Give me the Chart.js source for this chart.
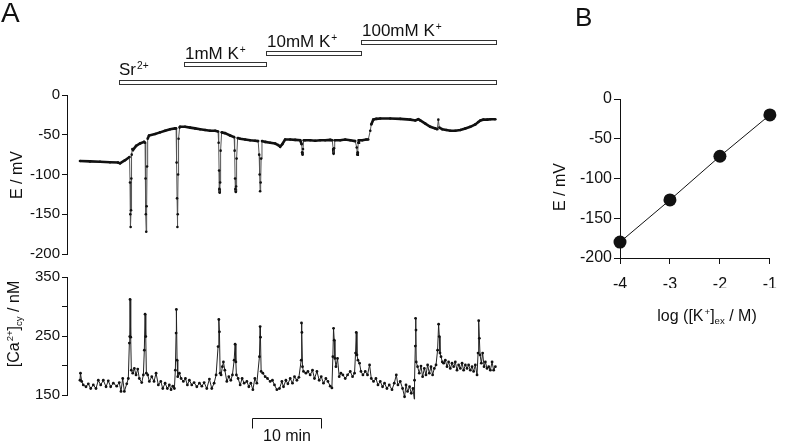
<!DOCTYPE html>
<html>
<head>
<meta charset="utf-8">
<script src="https://cdn.jsdelivr.net/npm/chart.js@4.4.1/dist/chart.umd.min.js"></script>
<style>
  body { margin: 0; background: #fff; }
  #fig { position: relative; width: 788px; height: 445px; overflow: hidden; background: #fff;
         font-family: "Liberation Sans", Arial, sans-serif; color: #111; }
  canvas { position: absolute; }
  .t { position: absolute; white-space: nowrap; line-height: 1; font-size: 17px; }
  .t sup { font-size: 0.6em; vertical-align: baseline; position: relative; top: -0.6em; margin-left: 1px; }
  .t sub { font-size: 0.6em; vertical-align: baseline; position: relative; top: 0.3em; }
  .rot { transform: translate(-50%, -50%) rotate(-90deg); }
  .mid { transform: translateX(-50%); }
</style>
</head>
<body>
<div id="fig">
  <canvas id="eChart" width="510" height="265" style="left:0;top:0"></canvas>
  <canvas id="caChart" width="510" height="183" style="left:0;top:262px"></canvas>
  <canvas id="bChart" width="248" height="330" style="left:540px;top:0"></canvas>

  <div class="t" style="left:1px;top:-1px;font-size:28px">A</div>
  <div class="t" style="left:575px;top:4px;font-size:26px">B</div>

  <div class="t" style="left:119px;top:61px">Sr<sup>2+</sup></div>
  <div class="t" style="left:185px;top:45px">1mM K<sup>+</sup></div>
  <div class="t" style="left:267px;top:33px">10mM K<sup>+</sup></div>
  <div class="t" style="left:362px;top:22px">100mM K<sup>+</sup></div>

  <div class="t rot" style="left:17px;top:175px;font-size:16px">E / mV</div>
  <div class="t rot" style="left:14px;top:324px;font-size:16px">[Ca<sup>2+</sup>]<sub>cy</sub> / nM</div>
  <div class="t mid" style="left:287px;top:428px;font-size:16px">10 min</div>

  <div class="t rot" style="left:560px;top:187px;font-size:16px">E / mV</div>
  <div class="t mid" style="left:707px;top:308px;font-size:16px">log ([K<sup>+</sup>]<sub>ex</sub> / M)</div>
</div>

<script>
// ---- panel A, membrane potential trace (time in min, E in mV)
const eTime = [
  0, 1.46, 2.93, 4.39, 5.56, 5.86, 6.59, 7.25, 7.32, 7.36,
  7.41, 7.47, 7.51, 7.57, 7.66, 7.76, 8.20, 8.78, 9.37, 9.52,
  9.59, 9.63, 9.69, 9.75, 9.81, 9.90, 10.10, 10.98, 11.71, 12.45,
  13.18, 13.91, 14.06, 14.13, 14.20, 14.25, 14.30, 14.35, 14.42, 14.57,
  14.64, 15.37, 16.11, 16.84, 17.57, 18.30, 19.03, 19.77, 20.20, 20.28,
  20.35, 20.39, 20.44, 20.50, 20.57, 20.72, 21.23, 21.96, 22.55, 22.62,
  22.69, 22.74, 22.80, 22.84, 22.91, 23.06, 23.43, 24.16, 24.89, 25.62,
  26.06, 26.21, 26.28, 26.35, 26.43, 26.50, 26.62, 27.09, 27.82, 28.55,
  28.99, 29.28, 29.58, 30.01, 30.75, 31.48, 32.21, 32.43, 32.50, 32.56,
  32.62, 32.72, 32.94, 33.67, 34.41, 35.14, 35.87, 36.60, 36.90, 37.04,
  37.10, 37.16, 37.26, 38.07, 38.80, 39.53, 40.26, 40.48, 40.56, 40.63,
  40.70, 40.80, 41.29, 41.87, 42.17, 42.46, 42.61, 42.90, 43.34, 43.92,
  45.39, 46.85, 48.32, 49.05, 49.49, 49.78, 50.51, 51.24, 51.98, 52.27,
  52.42, 52.56, 53.00, 53.59, 54.17, 54.90, 55.64, 56.37, 57.10, 57.83,
  58.27, 58.57, 59.00, 59.59, 60.03, 60.76
];
const eValue = [
  -83, -83.5, -84, -84.5, -85, -86, -82, -78, -110, -150,
  -166, -145, -105, -75, -68, -69, -64, -61, -59, -60,
  -105, -150, -172, -140, -90, -55, -51, -49, -47, -45,
  -43, -42, -42, -85, -130, -166, -150, -100, -55, -41,
  -40, -40, -41, -42, -43, -44, -45, -45, -46, -60,
  -95, -118, -123, -110, -70, -47, -48, -51, -53, -70,
  -105, -118, -122, -115, -80, -54, -55, -56, -57, -57.5,
  -58, -75, -100, -121, -110, -80, -58, -59, -60, -61,
  -63, -65, -62, -56, -56, -56.5, -57, -62, -72, -75,
  -68, -57, -57, -57, -57.5, -57, -57, -56.5, -57, -68,
  -74, -67, -57, -57, -56, -57, -58, -66, -75, -72,
  -60, -57, -57, -56, -56, -45, -37, -31, -30, -29.5,
  -29.5, -30, -31, -32, -30.5, -32, -36, -40, -42, -43,
  -31, -41, -43, -44, -45, -45, -44, -42, -40, -37,
  -34, -32, -31, -31, -30.5, -30.5
];

// ---- panel A, cytosolic Ca2+ trace (time in min, nM)
const caTime = [
  0.00, 0.07, 0.25, 0.48, 0.88, 1.22, 1.57, 1.95, 2.34, 2.68,
  3.03, 3.41, 3.81, 4.14, 4.49, 4.88, 5.37, 5.75, 6.00, 6.25,
  6.49, 6.84, 7.07, 7.22, 7.28, 7.32, 7.42, 7.51, 7.72, 7.95,
  8.20, 8.45, 8.68, 9.03, 9.27, 9.41, 9.52, 9.62, 9.71, 9.91,
  10.15, 10.50, 10.83, 11.13, 11.46, 11.82, 12.11, 12.45, 12.78, 13.07,
  13.32, 13.57, 13.81, 13.95, 14.06, 14.10, 14.20, 14.30, 14.54, 14.79,
  15.12, 15.42, 15.71, 16.00, 16.35, 16.69, 17.09, 17.47, 17.82, 18.16,
  18.55, 18.93, 19.28, 19.62, 19.91, 20.20, 20.31, 20.40, 20.50, 20.64,
  20.83, 20.98, 21.19, 21.48, 21.77, 22.06, 22.30, 22.55, 22.69, 22.80,
  22.88, 23.13, 23.43, 23.72, 24.01, 24.41, 24.70, 24.99, 25.29, 25.58,
  25.87, 26.25, 26.35, 26.40, 26.50, 26.75, 27.09, 27.42, 27.82, 28.15,
  28.45, 28.80, 29.18, 29.53, 29.77, 30.12, 30.41, 30.75, 31.08, 31.38,
  31.73, 32.02, 32.36, 32.40, 32.46, 32.55, 32.69, 33.05, 33.34, 33.67,
  34.01, 34.30, 34.66, 34.99, 35.29, 35.62, 35.97, 36.27, 36.60, 36.85,
  36.99, 37.09, 37.19, 37.29, 37.44, 37.67, 37.92, 38.17, 38.46, 38.80,
  39.14, 39.53, 39.87, 40.16, 40.31, 40.41, 40.51, 40.66, 40.89, 41.10,
  41.39, 41.73, 42.06, 42.36, 42.61, 42.94, 43.29, 43.59, 43.92, 44.26,
  44.55, 44.90, 45.24, 45.64, 45.97, 46.27, 46.51, 46.85, 47.19, 47.48,
  47.69, 47.92, 48.21, 48.46, 48.71, 48.90, 48.94, 49.05, 49.09, 49.15,
  49.19, 49.38, 49.63, 49.88, 50.12, 50.37, 50.61, 50.85, 51.10, 51.35,
  51.58, 51.83, 52.08, 52.31, 52.46, 52.56, 52.66, 52.81, 53.00, 53.19,
  53.44, 53.69, 53.92, 54.17, 54.42, 54.66, 54.90, 55.15, 55.39, 55.64,
  55.89, 56.12, 56.37, 56.62, 56.85, 57.10, 57.35, 57.58, 57.83, 58.08,
  58.23, 58.32, 58.42, 58.52, 58.71, 58.90, 59.11, 59.30, 59.55, 59.79,
  60.03, 60.28, 60.51, 60.76
];
const caValue = [
  175, 187, 173, 167, 164, 169, 161, 167, 161, 175,
  167, 175, 164, 174, 164, 170, 165, 171, 156, 178,
  156, 169, 178, 238, 249, 312, 248, 192, 187, 195,
  184, 194, 178, 171, 184, 226, 287, 249, 187, 184,
  173, 181, 173, 187, 167, 173, 161, 170, 161, 167,
  159, 165, 161, 192, 255, 295, 209, 181, 187, 178,
  173, 178, 167, 175, 167, 171, 164, 170, 165, 171,
  161, 177, 161, 170, 184, 232, 278, 257, 187, 184,
  198, 206, 192, 173, 181, 175, 184, 209, 236, 206,
  184, 178, 167, 178, 170, 173, 164, 170, 159, 178,
  170, 215, 266, 248, 190, 187, 181, 178, 173, 175,
  167, 159, 161, 173, 164, 175, 169, 178, 170, 181,
  175, 180, 209, 272, 256, 198, 190, 187, 190, 184,
  192, 178, 190, 175, 181, 170, 178, 173, 165, 162,
  215, 263, 243, 212, 198, 212, 181, 187, 184, 178,
  184, 190, 181, 187, 221, 256, 218, 209, 204, 190,
  184, 190, 184, 201, 178, 173, 178, 167, 173, 164,
  170, 161, 167, 159, 170, 184, 167, 173, 161, 147,
  167, 156, 164, 153, 161, 143, 175, 233, 280, 260,
  206, 198, 187, 199, 181, 195, 184, 201, 187, 198,
  184, 195, 201, 226, 270, 249, 221, 215, 206, 204,
  209, 198, 206, 195, 204, 198, 206, 192, 201, 195,
  204, 192, 201, 195, 201, 192, 198, 190, 201, 184,
  221, 276, 246, 218, 204, 221, 198, 206, 195, 198,
  192, 206, 192, 198
];

// solution changes (min) and the 10 min scale bar
const protocolStart = [5.75, 15.27, 27.23, 41.1];
const protocolEnd = [60.86, 27.23, 41.1, 60.86];
const scaleBarStart = 25.2;
const scaleBarMinutes = 10;

// ---- panel B
const bLogK = [-4, -3, -2, -1];
const bE = [-180, -127, -72, -20];

Chart.defaults.font.family = '"Liberation Sans", Arial, sans-serif';
Chart.defaults.font.size = 15;
Chart.defaults.color = '#111';
Chart.defaults.animation = false;
Chart.defaults.plugins.legend.display = false;
Chart.defaults.plugins.tooltip.enabled = false;

const INK = '#111';
const toXY = (xs, ys) => xs.map((x, i) => ({ x: x, y: ys[i] }));
const steep = c => Math.abs(c.p1.parsed.y - c.p0.parsed.y) > 6;

function yAxis(min, max, width, extra) {
  return Object.assign({
    min: min, max: max,
    afterFit: s => { s.width = width; },
    border: { color: INK, width: 1 },
    grid: { drawOnChartArea: false, drawTicks: true, tickLength: 5, color: INK },
    ticks: { stepSize: 50, padding: 2, color: INK }
  }, extra || {});
}

// bars above the E trace
const protocolPlugin = {
  id: 'protocol',
  afterDraw(chart) {
    const ctx = chart.ctx, x = chart.scales.x;
    const tops = [80, 62, 51, 40];
    ctx.save();
    ctx.strokeStyle = '#333';
    ctx.lineWidth = 1;
    protocolStart.forEach((s, i) => {
      const x1 = Math.round(x.getPixelForValue(s)) + 0.5;
      const x2 = Math.round(x.getPixelForValue(protocolEnd[i])) + 0.5;
      ctx.strokeRect(x1, tops[i] + 0.5, x2 - x1, 4);
    });
    ctx.restore();
  }
};

const scaleBarPlugin = {
  id: 'scaleBar',
  afterDraw(chart) {
    const ctx = chart.ctx, x = chart.scales.x;
    const x1 = Math.round(x.getPixelForValue(scaleBarStart)) + 0.5;
    const x2 = Math.round(x.getPixelForValue(scaleBarStart + scaleBarMinutes)) + 0.5;
    const y = chart.chartArea.bottom + 23.5;
    ctx.save();
    ctx.strokeStyle = INK;
    ctx.lineWidth = 1;
    ctx.beginPath();
    ctx.moveTo(x1, y + 10);
    ctx.lineTo(x1, y);
    ctx.lineTo(x2, y);
    ctx.lineTo(x2, y + 10);
    ctx.stroke();
    ctx.restore();
  }
};

new Chart(document.getElementById('eChart'), {
  type: 'scatter',
  data: {
    datasets: [{
      data: toXY(eTime, eValue),
      showLine: true,
      borderColor: INK,
      backgroundColor: INK,
      borderWidth: 2.6,
      pointRadius: 1.3,
      pointBorderWidth: 0,
      segment: {
        borderWidth: c => steep(c) ? 1 : 2.6,
        borderColor: c => steep(c) ? '#555' : INK
      }
    }]
  },
  options: {
    responsive: false,
    layout: { padding: { top: 95, bottom: 10, left: 0, right: 13 } },
    scales: {
      x: { type: 'linear', display: false, min: -1.9, max: 61 },
      y: yAxis(-200, 0, 67)
    }
  },
  plugins: [protocolPlugin]
});

new Chart(document.getElementById('caChart'), {
  type: 'scatter',
  data: {
    datasets: [{
      data: toXY(caTime, caValue),
      showLine: true,
      clip: false,
      borderColor: '#222',
      backgroundColor: INK,
      borderWidth: 1,
      pointRadius: 1.4,
      pointBorderWidth: 0
    }]
  },
  options: {
    responsive: false,
    layout: { padding: { top: 15, bottom: 50, left: 0, right: 13 } },
    scales: {
      x: { type: 'linear', display: false, min: -1.9, max: 61 },
      y: yAxis(150, 350, 67, {
        ticks: { stepSize: 50, padding: 2, color: INK, callback: v => (v % 100 === 50 ? v : '') }
      })
    }
  },
  plugins: [scaleBarPlugin]
});

new Chart(document.getElementById('bChart'), {
  type: 'scatter',
  data: {
    datasets: [{
      data: toXY(bLogK, bE),
      showLine: true,
      clip: false,
      borderColor: INK,
      backgroundColor: INK,
      borderWidth: 1,
      pointRadius: 6.5,
      pointBorderWidth: 0
    }]
  },
  options: {
    responsive: false,
    layout: { padding: { top: 99, bottom: 42, left: 0, right: 10 } },
    scales: {
      x: {
        type: 'linear', min: -4, max: -1,
        afterFit: s => { s.height = 30; },
        border: { color: INK, width: 1 },
        grid: { drawOnChartArea: false, drawTicks: true, tickLength: 6, color: INK },
        ticks: { stepSize: 1, padding: 11, color: INK, font: { size: 16 } }
      },
      y: yAxis(-200, 0, 80, {
        grid: { drawOnChartArea: false, drawTicks: true, tickLength: 6, color: INK },
        ticks: { stepSize: 50, padding: 2, color: INK, font: { size: 16 } }
      })
    }
  }
});
</script>
</body>
</html>
